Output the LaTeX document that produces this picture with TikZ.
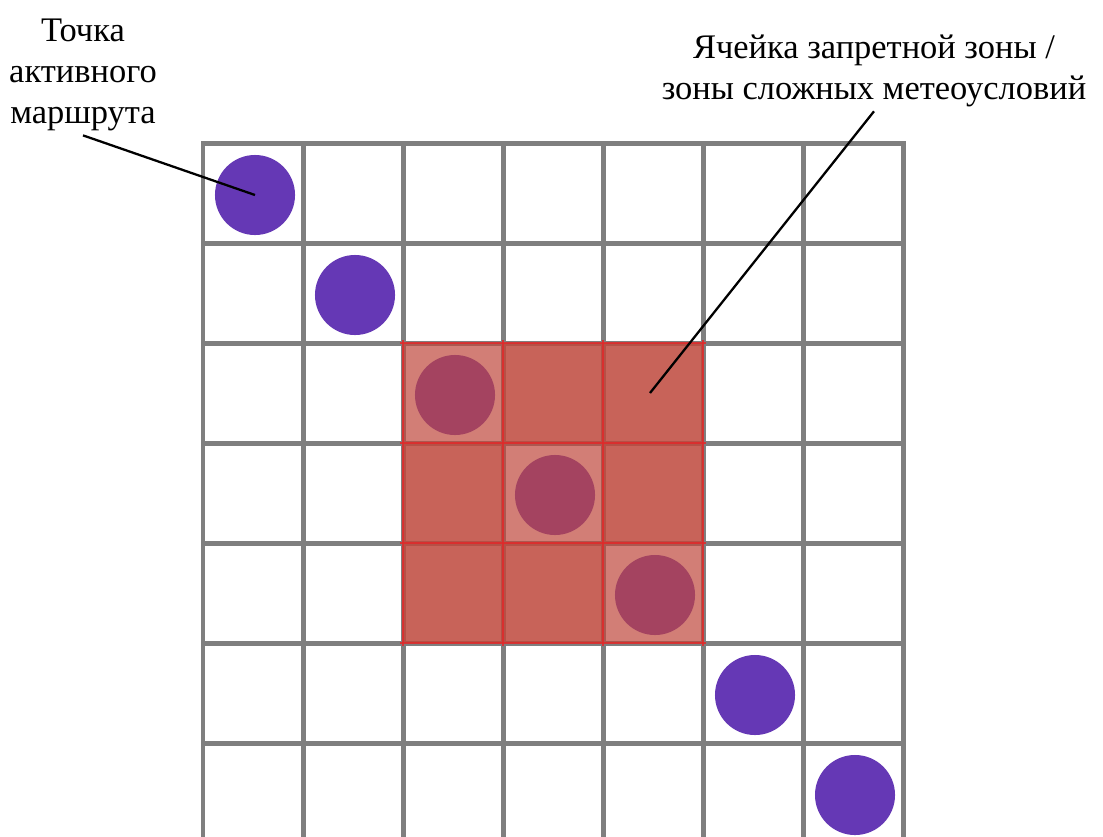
\documentclass[tikz,border=0pt]{standalone}
\usepackage{fontspec}
\setmainfont{Liberation Serif}
\usetikzlibrary{positioning}
\definecolor{gridgray}{HTML}{7F7F7F}
\definecolor{route}{HTML}{6538B5}
\definecolor{zone}{HTML}{BF483D}
\definecolor{zoneline}{HTML}{E02A2A}

\begin{document}
\begin{tikzpicture}[x=0.01cm,y=-0.01cm,
    every node/.style={font=\fontsize{9.8}{11.7}\selectfont},
    gridline/.style={draw=gridgray,line width=1.42pt,line cap=rect},
    routept/.style={circle,fill=route,minimum size=0.8cm,inner sep=0pt},
    zonecell/.style={fill=zone,fill opacity=0.85,minimum size=1cm,inner sep=0pt},
    zonept/.style={fill=zone,fill opacity=0.7,minimum size=1cm,inner sep=0pt},
    leader/.style={draw=black,line width=0.65pt}]
    \clip (0,0) rectangle (1103,836);
    \fill[white] (0,0) rectangle (1103,836);
    % grid of cells
    \foreach \i in {0,...,7} {
      \draw[gridline] (203+100*\i,143) -- (203+100*\i,850);
      \draw[gridline] (203,143+100*\i) -- (903,143+100*\i);
    }
    % points of the active route
    \foreach \k in {1,...,7}
      \node[routept] (p\k) at (155+100*\k,95+100*\k) {};
    % restricted / bad weather zone
    \foreach \r in {0,1,2} {
      \foreach \c in {0,1,2} {
        \ifnum\r=\c
          \node[zonept] (z\r\c) at (453+100*\c,393+100*\r) {};
        \else
          \node[zonecell] (z\r\c) at (453+100*\c,393+100*\r) {};
        \fi
      }
    }
    \foreach \i in {0,...,3} {
      \draw[zoneline,line width=0.6pt,opacity=0.85] (403+100*\i,340) -- (403+100*\i,646);
      \draw[zoneline,line width=0.6pt,opacity=0.85] (400,343+100*\i) -- (706,343+100*\i);
    }
    \coordinate (zonetip) at (650,393);
    % labels
    \node[align=center,inner sep=1pt] (lblPoint) at (83,75) {Точка\\активного\\маршрута};
    \node[align=center,inner sep=1pt] (lblZone) at (874,71) {Ячейка запретной зоны /\\зоны сложных метеоусловий};
    \draw[leader] (lblPoint.south) -- (p1.center);
    \draw[leader] (lblZone.south) -- (zonetip);
  \end{tikzpicture}
\end{document}
